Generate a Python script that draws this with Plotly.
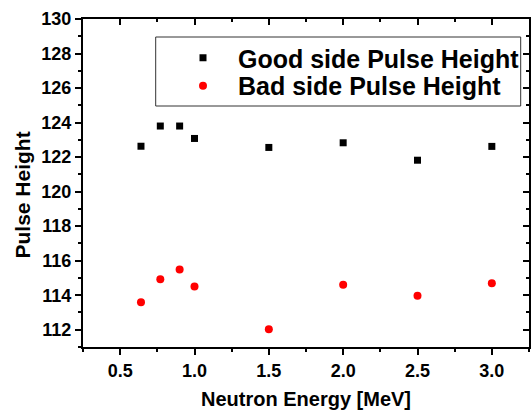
import plotly.graph_objects as go

energy = [0.64, 0.77, 0.9, 1.0, 1.5, 2.0, 2.5, 3.0]
good_ph = [122.63, 123.80, 123.80, 123.08, 122.56, 122.83, 121.82, 122.62]
bad_ph = [113.59, 114.92, 115.49, 114.50, 112.03, 114.61, 113.97, 114.69]

FONT = "Liberation Sans, Arial, sans-serif"
tickfont = dict(family=FONT, size=18, color="black", weight="bold")
titlefont = dict(family=FONT, size=20, color="black", weight="bold")
ytitlefont = dict(family=FONT, size=21, color="black", weight="bold")
legfont = dict(family=FONT, size=25, color="black", weight="bold")

fig = go.Figure()
fig.add_trace(go.Scatter(x=energy, y=good_ph, mode="markers", name="Good side Pulse Height",
                         marker=dict(symbol="square", size=7, color="black"), legend="legend"))
fig.add_trace(go.Scatter(x=energy, y=bad_ph, mode="markers", name="Bad side Pulse Height",
                         marker=dict(symbol="circle", size=8, color="red"), legend="legend2"))
fig.add_trace(go.Scatter(x=[None], y=[None], xaxis="x2", yaxis="y2", showlegend=False,
                         hoverinfo="skip", mode="markers"))

XR = [0.25, 3.25]
YR = [111, 130]
LX = (168 - 83) / 446

fig.update_layout(
    width=531, height=412,
    margin=dict(l=83, r=2, t=19, b=65, autoexpand=False),
    paper_bgcolor="white", plot_bgcolor="white",
    showlegend=True,
    legend=dict(x=LX, xanchor="left", y=0.9512, yanchor="top", font=legfont,
                itemwidth=60, bgcolor="rgba(0,0,0,0)", borderwidth=0),
    legend2=dict(x=LX, xanchor="left", y=0.8659, yanchor="top", font=legfont,
                 itemwidth=60, bgcolor="rgba(0,0,0,0)", borderwidth=0),
    xaxis=dict(range=XR, showgrid=False, zeroline=False, showline=True, linecolor="black",
               linewidth=2, ticks="outside", ticklen=6, tickwidth=1.5, tickcolor="black",
               tick0=0.5, dtick=0.5, tickformat=".1f", tickfont=tickfont,
               minor=dict(ticks="outside", ticklen=3, tickwidth=1.5, tickcolor="black",
                          tick0=0.25, dtick=0.25, showgrid=False),
               title=dict(text="Neutron Energy [MeV]", font=titlefont, standoff=12)),
    yaxis=dict(range=YR, showgrid=False, zeroline=False, showline=True, linecolor="black",
               linewidth=2, ticks="outside", ticklen=6, tickwidth=1.5, tickcolor="black",
               tick0=112, dtick=2, tickfont=tickfont,
               minor=dict(ticks="outside", ticklen=3, tickwidth=1.5, tickcolor="black",
                          dtick=1, showgrid=False)),
    xaxis2=dict(range=XR, overlaying="x", side="top", anchor="y", showgrid=False, zeroline=False,
                showline=True, linecolor="black", linewidth=2, ticks="inside", ticklen=6,
                tickwidth=1.5, tickcolor="black", tick0=0.5, dtick=0.5, showticklabels=False,
                minor=dict(ticks="inside", ticklen=3, tickwidth=1.5, tickcolor="black",
                           tick0=0.25, dtick=0.25, showgrid=False)),
    yaxis2=dict(range=YR, overlaying="y", side="right", anchor="x", showgrid=False, zeroline=False,
                showline=True, linecolor="black", linewidth=2, ticks="inside", ticklen=6,
                tickwidth=1.5, tickcolor="black", tick0=112, dtick=2, showticklabels=False,
                minor=dict(ticks="inside", ticklen=3, tickwidth=1.5, tickcolor="black",
                           dtick=1, showgrid=False)),
    annotations=[dict(text="Pulse Height", xref="paper", yref="paper",
                      x=(22 - 83) / 446, y=1 - (195.5 - 19) / 328, textangle=-90,
                      xanchor="center", yanchor="middle", showarrow=False, font=ytitlefont)],
    shapes=[dict(type="rect", xref="paper", yref="paper",
                 x0=(155.7 - 83) / 446, x1=(520.7 - 83) / 446,
                 y0=1 - (106 - 19) / 328, y1=1 - (37 - 19) / 328,
                 line=dict(color="#333333", width=1), fillcolor="rgba(0,0,0,0)", layer="above")],
)

fig.write_html("out.html", config={"displayModeBar": False},
               post_script="document.body.style.margin='0';document.body.style.overflow='hidden';")
